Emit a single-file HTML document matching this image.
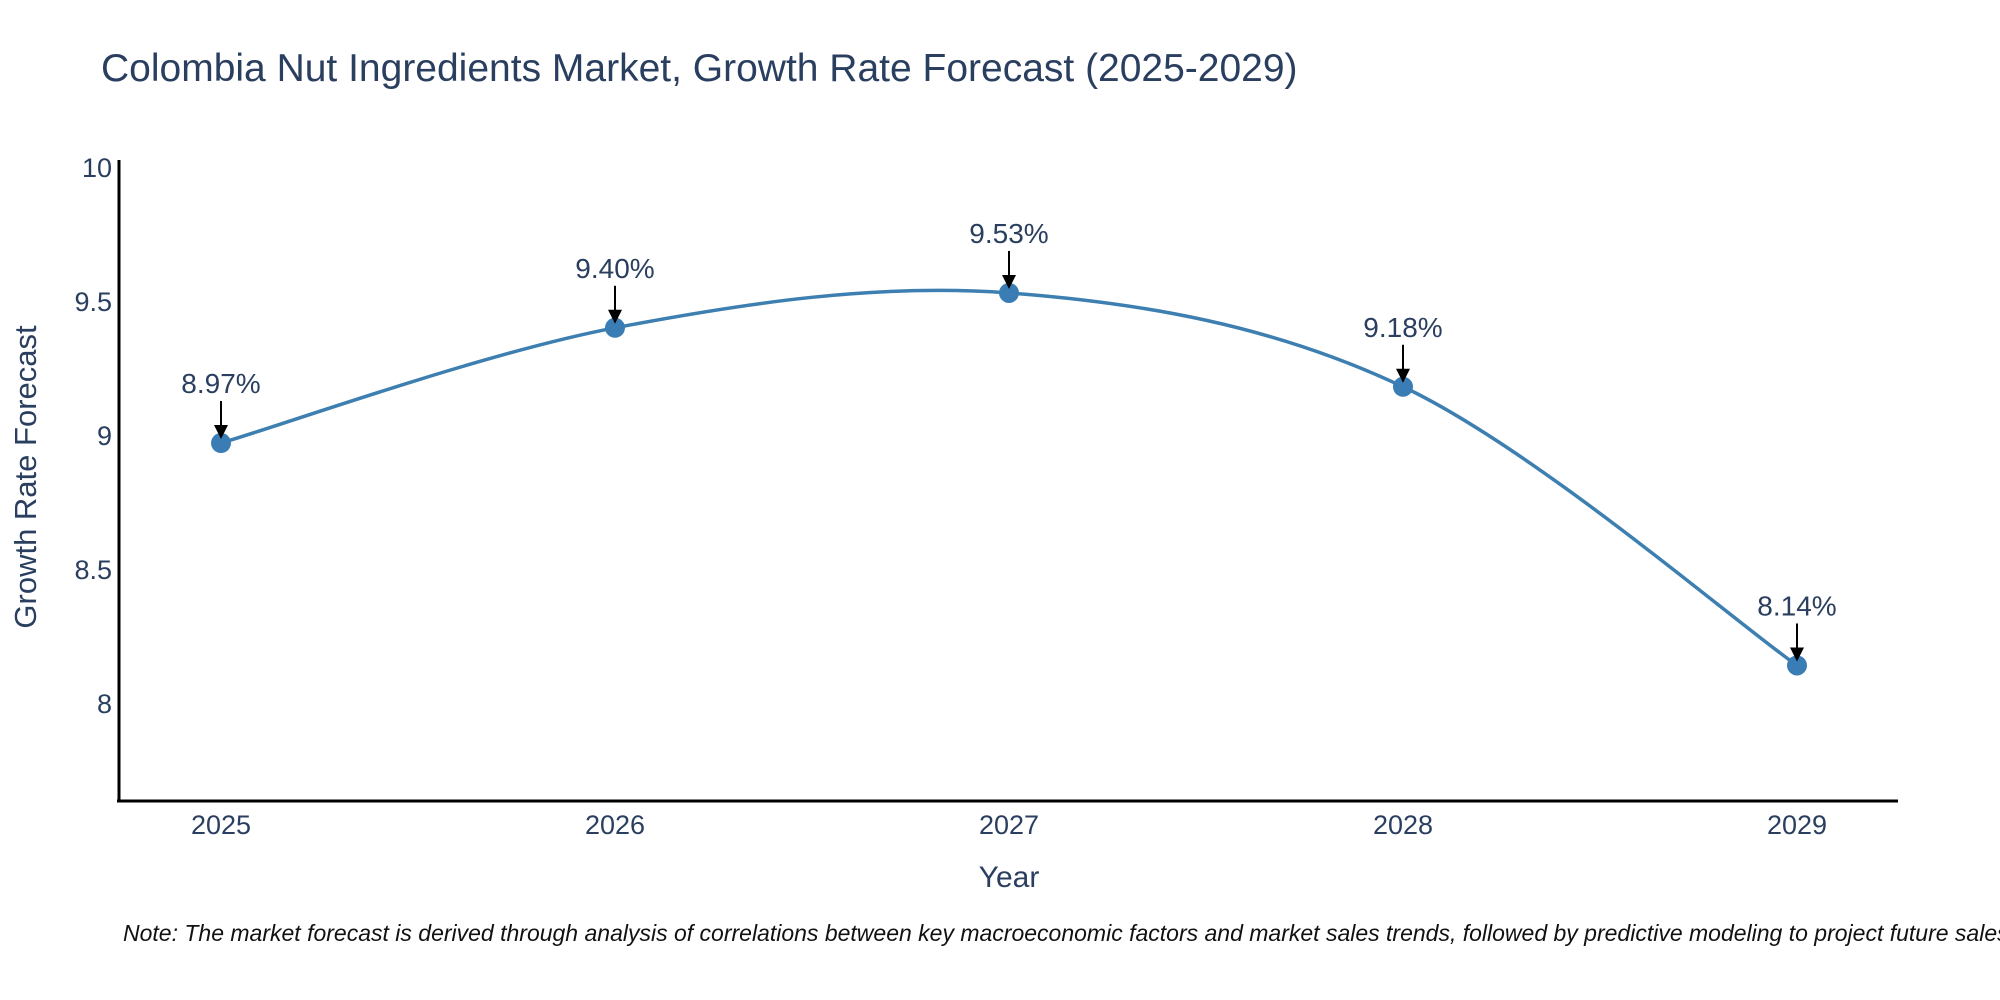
<!DOCTYPE html>
<html><head><meta charset="utf-8"><style>
html,body{margin:0;padding:0;background:#fff;}
svg{display:block;font-family:"Liberation Sans","DejaVu Sans",sans-serif;}
</style></head><body>
<svg id="chart" width="2000" height="1000" viewBox="0 0 2000 1000">
<text x="101" y="81" font-size="39" fill="#2a3f5f">Colombia Nut Ingredients Market, Growth Rate Forecast (2025-2029)</text>
<g id="yticks"></g>
<g id="xticks"></g>
<g id="series"></g>
<g id="annots"></g>
<line x1="119" y1="160" x2="119" y2="802" stroke="#000" stroke-width="3"/>
<line x1="117" y1="801" x2="1898" y2="801" stroke="#000" stroke-width="3"/>
<text transform="translate(36,477) rotate(-90)" text-anchor="middle" font-size="31" fill="#2a3f5f">Growth Rate Forecast</text>
<text x="1009" y="887" text-anchor="middle" font-size="30" fill="#2a3f5f">Year</text>
<text x="123" y="941" font-size="23" font-style="italic" fill="#111">Note: The market forecast is derived through analysis of correlations between key macroeconomic factors and market sales trends, followed by predictive modeling to project future sales.</text>
</svg>
<script>
const years = [2025, 2026, 2027, 2028, 2029];
const values = [8.97, 9.40, 9.53, 9.18, 8.14];
const labels = ["8.97%", "9.40%", "9.53%", "9.18%", "8.14%"];
const yTickVals = [8, 8.5, 9, 9.5, 10];
const yTickText = ["8", "8.5", "9", "9.5", "10"];

const NS = "http://www.w3.org/2000/svg";
function X(v){ return 221 + (v - 2025) * 394; }
function Y(v){ return 703 - (v - 8) * 268; }
function mk(tag, attrs, parent, text){
  const e = document.createElementNS(NS, tag);
  for (const k in attrs) e.setAttribute(k, attrs[k]);
  if (text !== undefined) e.textContent = text;
  parent.appendChild(e);
  return e;
}
const yt = document.getElementById('yticks');
yTickVals.forEach((v,i)=>{
  const t = mk('text',{x:112,y:Y(v)+10,'text-anchor':'end','font-size':27,fill:'#2a3f5f'},yt,yTickText[i]);
  
  
});
const xt = document.getElementById('xticks');
years.forEach(v=>{
  const t = mk('text',{x:X(v),y:834,'text-anchor':'middle','font-size':27,fill:'#2a3f5f'},xt,String(v));
  
  
});
const pts = years.map((y,i)=>[X(y),Y(values[i])]);
let d = `M${pts[0][0]},${pts[0][1]}`;
for (let i=0;i<pts.length-1;i++){
  const p0 = pts[Math.max(0,i-1)], p1 = pts[i], p2 = pts[i+1], p3 = pts[Math.min(pts.length-1,i+2)];
  const c1 = [p1[0]+(p2[0]-p0[0])/6, p1[1]+(p2[1]-p0[1])/6];
  const c2 = [p2[0]-(p3[0]-p1[0])/6, p2[1]-(p3[1]-p1[1])/6];
  d += ` C${c1[0]},${c1[1]} ${c2[0]},${c2[1]} ${p2[0]},${p2[1]}`;
}
const s = document.getElementById('series');
const line = mk('path',{d:d,fill:'none',stroke:'#3d7fb0','stroke-width':3.5},s);


const an = document.getElementById('annots');
pts.forEach((p,i)=>{
  const c = mk('circle',{cx:p[0],cy:p[1],r:10,fill:'#3a7db5'},s);
  
  
  const ar = mk('line',{x1:p[0],y1:p[1]-42,x2:p[0],y2:p[1]-14,stroke:'#000','stroke-width':2},an);
  
  
  const head = mk('polygon',{points:`${p[0]-7},${p[1]-18} ${p[0]+7},${p[1]-18} ${p[0]},${p[1]-4}`,fill:'#000'},an);
  
  
  const t = mk('text',{x:p[0],y:p[1]-50,'text-anchor':'middle','font-size':28,fill:'#2a3f5f'},an,labels[i]);
  
  
});
</script>
</body></html>
